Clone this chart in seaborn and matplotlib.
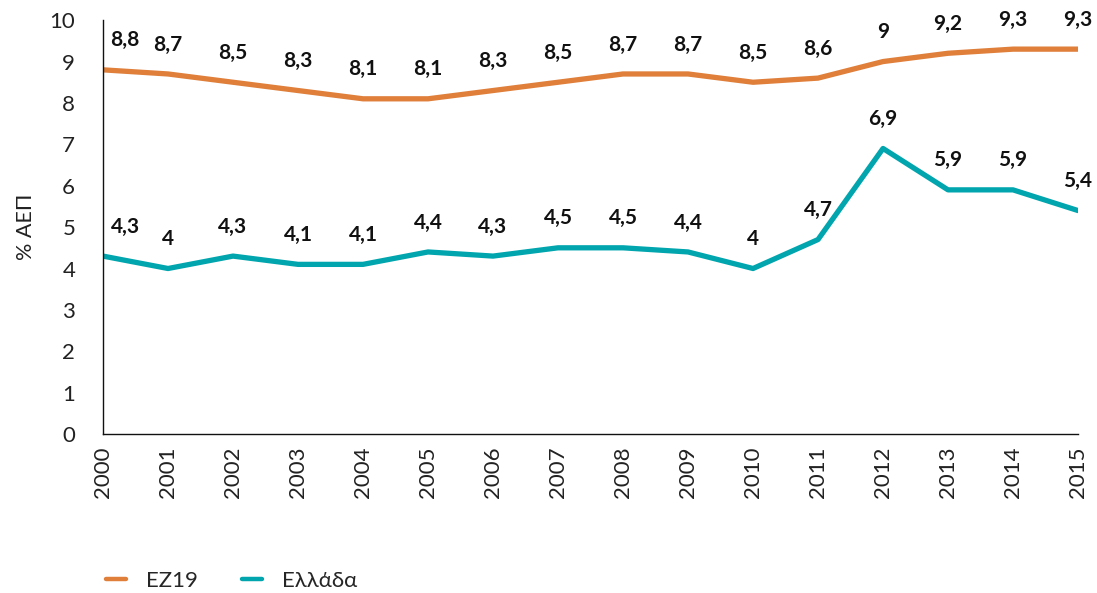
import matplotlib
matplotlib.use("Agg")
import matplotlib.pyplot as plt
import seaborn as sns
import pandas as pd

years = [str(y) for y in range(2000, 2016)]
ez19 = [8.8, 8.7, 8.5, 8.3, 8.1, 8.1, 8.3, 8.5, 8.7, 8.7, 8.5, 8.6, 9.0, 9.2, 9.3, 9.3]
greece = [4.3, 4.0, 4.3, 4.1, 4.1, 4.4, 4.3, 4.5, 4.5, 4.4, 4.0, 4.7, 6.9, 5.9, 5.9, 5.4]
series_names = ["ΕΖ19", "Ελλάδα"]
colors = ["#DF7F3A", "#00A5AE"]

sns.set_theme(style="white")
plt.rcParams["font.family"] = ["Lato", "DejaVu Sans"]

df = pd.DataFrame({"year": years * 2,
                   "value": ez19 + greece,
                   "series": [series_names[0]] * len(years) + [series_names[1]] * len(years)})

fig = plt.figure(figsize=(10.97, 5.93), dpi=100)
ax = fig.add_axes([0.0939, 0.268, 0.8888, 0.698])
sns.lineplot(data=df, x="year", y="value", hue="series", palette=colors,
             linewidth=3.8, ax=ax, sort=False)

for vals in (ez19, greece):
    for i, v in enumerate(vals):
        txt = (f"{v:g}").replace(".", ",")
        dx = 16 if i == 0 else 0
        ax.annotate(txt, (i, v), xytext=(dx, 14), textcoords="offset points",
                    ha="center", va="bottom", fontsize=15, fontweight="bold", color="#111111")

ax.set_xlim(0, len(years) - 1)
ax.set_ylim(0, 10)
ax.set_yticks(range(0, 11))
ax.set_xlabel("")
ax.set_ylabel("% ΑΕΠ", fontsize=15.5, color="#222222", labelpad=10)
ax.tick_params(axis="x", labelrotation=90, labelsize=16, colors="#222222", pad=3)
ax.tick_params(axis="y", labelsize=16, colors="#222222", pad=14)
for s in ["top", "right"]:
    ax.spines[s].set_visible(False)
for s in ["left", "bottom"]:
    ax.spines[s].set_color("#111111")
    ax.spines[s].set_linewidth(1.0)

handles, labels = ax.get_legend_handles_labels()
for h in handles:
    h.set_linewidth(3.2)
ax.legend(handles, labels, loc="center left", bbox_to_anchor=(0.003, -0.355), ncol=2,
          frameon=False, fontsize=16, handlelength=0.9, handletextpad=0.9,
          columnspacing=2.0, borderaxespad=0, borderpad=0)

fig.savefig("out.png", dpi=100)
